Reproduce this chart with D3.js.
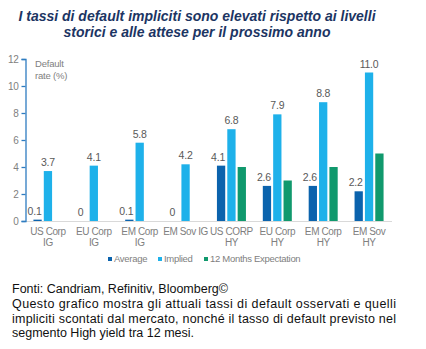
<!DOCTYPE html>
<html>
<head>
<meta charset="utf-8">
<script src="https://cdn.jsdelivr.net/npm/d3@7"></script>
<style>
  body { margin: 0; background: #fff; }
  svg { font-family: Arial, "Liberation Sans", sans-serif; }
</style>
</head>
<body>
<svg width="426" height="349"></svg>
<script>
const categories = [
  ['US Corp', 'IG'], ['EU Corp', 'IG'], ['EM Corp', 'IG'], ['EM Sov IG', ''],
  ['US CORP', 'HY'], ['EU Corp', 'HY'], ['EM Corp', 'HY'], ['EM Sov', 'HY']
];
const seriesNames = ['Average', 'Implied', '12 Months Expectation'];
const average = [0.1, 0, 0.1, 0, 4.1, 2.6, 2.6, 2.2];
const implied = [3.7, 4.1, 5.8, 4.2, 6.8, 7.9, 8.8, 11.0];
const expectation = [null, null, null, null, 4.0, 3.0, 4.0, 5.0];
const yTicks = [0, 2, 4, 6, 8, 10, 12];
const colors = ['#0b63ad', '#1eb1ea', '#10996d'];

const svg = d3.select('svg');

// title
const title = svg.append('g')
  .attr('fill', '#1c3563')
  .attr('font-weight', 'bold')
  .attr('font-style', 'italic')
  .attr('font-size', 14)
  .attr('text-anchor', 'middle');
title.append('text').attr('x', 197).attr('y', 21)
  .text('I tassi di default impliciti sono elevati rispetto ai livelli');
title.append('text').attr('x', 197).attr('y', 37)
  .text('storici e alle attese per il prossimo anno');

const plotLeft = 25, plotRight = 392, plotTop = 59, plotBottom = 221;

const keys = categories.map((c, i) => i);
const x0 = d3.scaleBand().domain(keys).range([plotLeft, plotRight]).padding(0);
const bw = x0.bandwidth();
const x1 = d3.scaleBand().domain([0, 1, 2])
  .range([bw / 2 - 14.5, bw / 2 + 14.5]).paddingInner(0.2);
const y = d3.scaleLinear().domain([0, 12]).range([plotBottom, plotTop]);

// x baseline
svg.append('line')
  .attr('x1', plotLeft).attr('x2', plotRight)
  .attr('y1', plotBottom + 0.5).attr('y2', plotBottom + 0.5)
  .attr('stroke', '#d9d9d9');

// y axis
const yAxis = svg.append('g')
  .attr('transform', `translate(${plotLeft + 0.5},0)`)
  .call(d3.axisLeft(y).tickValues(yTicks).tickSize(4).tickPadding(3));
yAxis.select('.domain').attr('stroke', '#2e7cc0').attr('stroke-width', 1.3);
yAxis.selectAll('.tick line').attr('stroke', '#2e7cc0').attr('stroke-width', 1.3);
yAxis.selectAll('.tick text')
  .attr('fill', '#808080').attr('font-size', 10)
  .attr('letter-spacing', -0.3)
  .attr('font-family', 'Arial, "Liberation Sans", sans-serif');

svg.append('g').attr('fill', '#808080').attr('font-size', 9.5)
  .attr('letter-spacing', -0.2)
  .selectAll('text').data(['Default', 'rate (%)']).join('text')
  .attr('x', 35).attr('y', (d, i) => 67 + i * 11.5)
  .text(d => d);

// bars
const series = [average, implied, expectation];
const groups = svg.append('g').selectAll('g').data(keys).join('g')
  .attr('transform', d => `translate(${x0(d)},0)`);

groups.selectAll('rect')
  .data(i => series.map((s, k) => ({ k, v: s[i] })).filter(d => d.v !== null))
  .join('rect')
  .attr('x', d => x1(d.k))
  .attr('width', x1.bandwidth())
  .attr('y', d => y(d.v))
  .attr('height', d => y(0) - y(d.v))
  .attr('fill', d => colors[d.k]);

groups.selectAll('text.val')
  .data(i => [0, 1].map(k => ({ k, v: series[k][i] })))
  .join('text')
  .attr('class', 'val')
  .attr('x', d => x1(d.k) + x1.bandwidth() / 2 + (d.k === 0 ? -3 : 0))
  .attr('y', d => y(d.v) - 5)
  .attr('text-anchor', 'middle')
  .attr('font-size', 10.5)
  .attr('letter-spacing', -0.2)
  .attr('fill', '#595959')
  .text(d => (d.v === 0 ? '0' : d.v.toFixed(1)));

// category labels
groups.selectAll('text.cat')
  .data(i => categories[i])
  .join('text')
  .attr('class', 'cat')
  .attr('x', bw / 2)
  .attr('y', (d, j) => 235 + j * 11)
  .attr('text-anchor', 'middle')
  .attr('font-size', 10)
  .attr('letter-spacing', -0.4)
  .attr('fill', '#808080')
  .text(d => d);

// legend
const legendX = [108, 158, 204];
const legend = svg.append('g').selectAll('g').data(seriesNames).join('g')
  .attr('transform', (d, i) => `translate(${legendX[i]},261)`);
legend.append('rect').attr('x', 0).attr('y', -4).attr('width', 4).attr('height', 4)
  .attr('fill', (d, i) => colors[i]);
legend.append('text').attr('x', 6).attr('y', 0.5)
  .attr('font-size', 9.5).attr('fill', '#808080')
  .attr('letter-spacing', -0.3)
  .text(d => d);

// footer
const footer = [
  ['Fonti: Candriam, Refinitiv, Bloomberg©', false],
  ['Questo grafico mostra gli attuali tassi di default osservati e quelli', true],
  ['impliciti scontati dal mercato, nonché il tasso di default previsto nel', true],
  ['segmento High yield tra 12 mesi.', false]
];
svg.append('g').attr('font-size', 12.5).attr('fill', '#111')
  .selectAll('text').data(footer).join('text')
  .attr('x', 12)
  .attr('y', (d, i) => 293 + i * 14.8)
  .attr('textLength', d => d[1] ? 384 : null)
  .attr('lengthAdjust', 'spacing')
  .text(d => d[0]);
</script>
</body>
</html>
